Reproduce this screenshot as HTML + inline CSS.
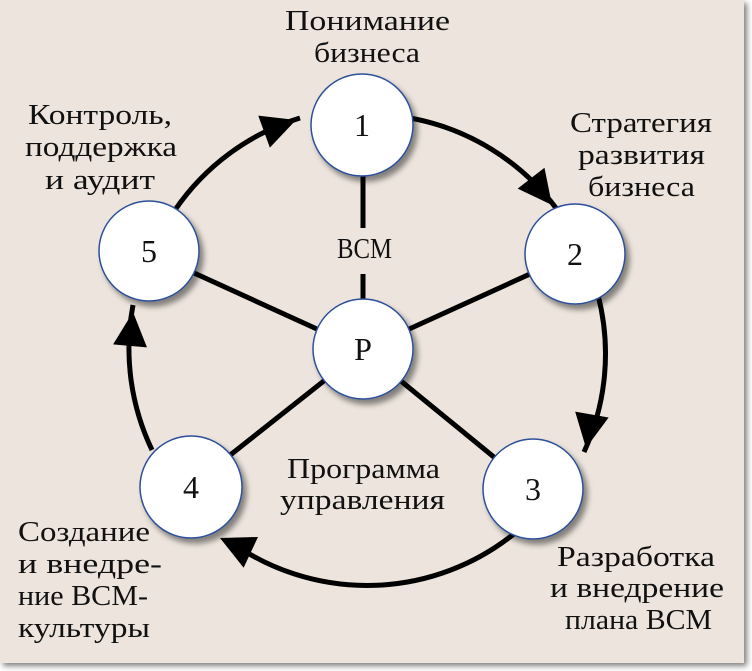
<!DOCTYPE html>
<html><head><meta charset="utf-8"><style>
html,body{margin:0;padding:0;background:#fff;width:752px;height:671px;overflow:hidden}
svg{display:block}
text{font-family:"Liberation Serif",serif;font-size:29px;fill:#111}
</style></head><body>
<svg width="752" height="671" viewBox="0 0 752 671">
<defs>
<filter id="sh" x="-30%" y="-30%" width="170%" height="170%"><feDropShadow dx="4" dy="5" stdDeviation="3" flood-color="#000" flood-opacity="0.45"/></filter>
<filter id="fs" x="-5%" y="-5%" width="110%" height="110%"><feDropShadow dx="3" dy="3" stdDeviation="3" flood-color="#000" flood-opacity="0.5"/></filter>
</defs>
<rect x="0" y="0" width="744" height="663" fill="#ede5dd" filter="url(#fs)"/>
<g stroke="#000" stroke-width="5" fill="none">
<line x1="363" y1="160" x2="363" y2="228"/>
<line x1="363" y1="274" x2="363" y2="310"/>
<line x1="363" y1="350" x2="574" y2="254"/>
<line x1="363" y1="350" x2="533" y2="489"/>
<line x1="363" y1="350" x2="191" y2="486"/>
<line x1="363" y1="350" x2="148" y2="252"/>
<path d="M410 118 A235 235 0 0 1 556 208"/>
<path d="M598 295 A235 235 0 0 1 584 452"/>
<path d="M515 533 A235 235 0 0 1 228 540"/>
<path d="M152 450 A235 235 0 0 1 133 305"/>
<path d="M175 210 A235 235 0 0 1 300 118"/>
</g>
<g fill="#000">
<polygon points="0,0 -34,-17 -34,17" transform="translate(552,205) rotate(52)"/>
<polygon points="0,0 -34,-17 -34,17" transform="translate(586,448) rotate(100)"/>
<polygon points="0,0 -34,-17 -34,17" transform="translate(220,538) rotate(205)"/>
<polygon points="0,0 -34,-17 -34,17" transform="translate(133,312) rotate(-85)"/>
<polygon points="0,0 -34,-17 -34,17" transform="translate(296,120) rotate(-20)"/>
</g>
<g fill="#fff" stroke="#2d4f9a" stroke-width="1.5" filter="url(#sh)">
<circle cx="362" cy="125" r="51"/>
<circle cx="575" cy="254" r="50"/>
<circle cx="533" cy="489" r="50"/>
<circle cx="191" cy="487" r="51"/>
<circle cx="149" cy="251" r="50"/>
<circle cx="363" cy="349" r="50"/>
</g>
<g text-anchor="middle">
<text x="362" y="136" style="font-size:32px">1</text>
<text x="575" y="265" style="font-size:32px">2</text>
<text x="533" y="500" style="font-size:32px">3</text>
<text x="191" y="498" style="font-size:32px">4</text>
<text x="149" y="262" style="font-size:32px">5</text>
<text x="363" y="360" style="font-size:32px">P</text>
</g>
<g lengthAdjust="spacingAndGlyphs">
<text x="285" y="30" textLength="165" lengthAdjust="spacingAndGlyphs">Понимание</text>
<text x="314" y="62" textLength="106" lengthAdjust="spacingAndGlyphs">бизнеса</text>
<text x="570" y="132" textLength="142" lengthAdjust="spacingAndGlyphs">Стратегия</text>
<text x="578" y="164" textLength="127" lengthAdjust="spacingAndGlyphs">развития</text>
<text x="588" y="196" textLength="107" lengthAdjust="spacingAndGlyphs">бизнеса</text>
<text x="28" y="124" textLength="144" lengthAdjust="spacingAndGlyphs">Контроль,</text>
<text x="25" y="156" textLength="152" lengthAdjust="spacingAndGlyphs">поддержка</text>
<text x="45" y="189" textLength="110" lengthAdjust="spacingAndGlyphs">и аудит</text>
<text x="337" y="258" textLength="55" lengthAdjust="spacingAndGlyphs">ВСМ</text>
<text x="287" y="478" textLength="153" lengthAdjust="spacingAndGlyphs">Программа</text>
<text x="280" y="509" textLength="165" lengthAdjust="spacingAndGlyphs">управления</text>
<text x="557" y="566" textLength="158" lengthAdjust="spacingAndGlyphs">Разработка</text>
<text x="550" y="597" textLength="174" lengthAdjust="spacingAndGlyphs">и внедрение</text>
<text x="565" y="629" textLength="147" lengthAdjust="spacingAndGlyphs">плана ВСМ</text>
<text x="18" y="541" textLength="132" lengthAdjust="spacingAndGlyphs">Создание</text>
<text x="18" y="573" textLength="144" lengthAdjust="spacingAndGlyphs">и внедре-</text>
<text x="18" y="605" textLength="130" lengthAdjust="spacingAndGlyphs">ние ВСМ-</text>
<text x="18" y="637" textLength="132" lengthAdjust="spacingAndGlyphs">культуры</text>
</g>
</svg>
</body></html>
